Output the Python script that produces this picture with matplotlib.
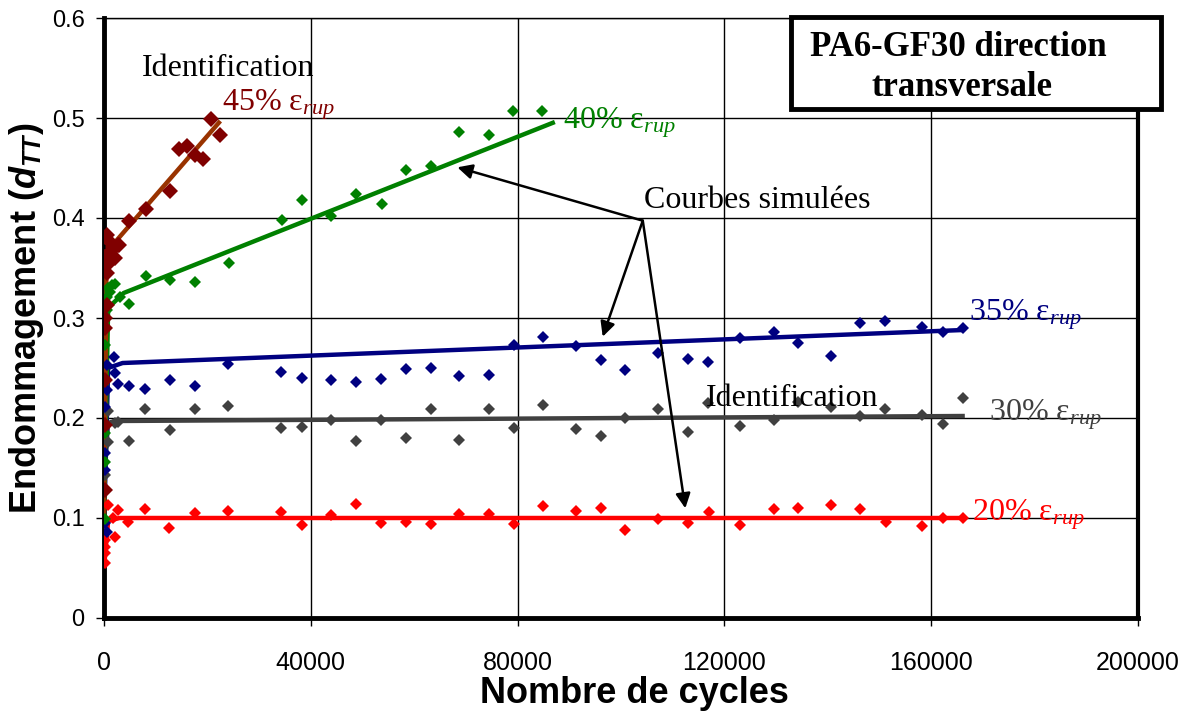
import numpy as np
import matplotlib.pyplot as plt
from matplotlib.patches import Rectangle

plt.rcParams['mathtext.fontset'] = 'custom'
plt.rcParams['mathtext.rm'] = 'Liberation Serif'
plt.rcParams['mathtext.it'] = 'Liberation Serif:italic'
plt.rcParams['mathtext.bf'] = 'Liberation Sans:bold'
plt.rcParams['mathtext.bfit'] = 'Liberation Sans:italic:bold'

# 20% eps_rup (rouge)
x_20 = [200, 200, 200, 200, 830, 1800, 2130, 2760, 4700, 7970, 12640, 17550, 23900, 34330, 38310,
        43990, 48810, 53560, 58390, 63220, 68740, 74480, 79230, 84830, 91340, 96090, 100840, 107200,
        112950, 117010, 123070, 129640, 134270, 140700, 146250, 151200, 158300, 162200, 166200]
y_20 = [0.055, 0.065, 0.071, 0.078, 0.113, 0.100, 0.081, 0.108, 0.096, 0.109, 0.090, 0.105, 0.107,
        0.106, 0.093, 0.103, 0.114, 0.095, 0.096, 0.094, 0.104, 0.104, 0.094, 0.112, 0.107, 0.110,
        0.088, 0.099, 0.095, 0.106, 0.093, 0.109, 0.110, 0.113, 0.109, 0.096, 0.092, 0.100, 0.100]

# 30% eps_rup (gris)
x_30 = [200, 770, 770, 2130, 2700, 4750, 7970, 12720, 17550, 23910, 34330, 38310, 43990, 48810,
        53560, 58390, 63220, 68740, 74480, 79230, 84830, 91340, 96090, 100840, 107200, 112950,
        116750, 123070, 129500, 134200, 140700, 146250, 151000, 158300, 162200, 166200]
y_30 = [0.143, 0.207, 0.176, 0.195, 0.196, 0.177, 0.209, 0.188, 0.209, 0.212, 0.190, 0.191, 0.198,
        0.177, 0.198, 0.180, 0.209, 0.178, 0.209, 0.190, 0.213, 0.189, 0.182, 0.200, 0.209, 0.186,
        0.215, 0.192, 0.198, 0.216, 0.211, 0.202, 0.209, 0.203, 0.194, 0.220]

# 35% eps_rup (bleu)
x_35 = [200, 200, 200, 200, 520, 520, 520, 1900, 2130, 2760, 4750, 7970, 12720, 17550, 23910, 34330,
        38310, 43990, 48810, 53560, 58390, 63220, 68740, 74480, 79230, 84830, 91340, 96090, 100840,
        107200, 112950, 116750, 123070, 129500, 134200, 140700, 146250, 151000, 158300, 162200, 166200]
y_35 = [0.095, 0.148, 0.165, 0.211, 0.086, 0.228, 0.253, 0.261, 0.245, 0.234, 0.232, 0.229, 0.238,
        0.232, 0.254, 0.246, 0.240, 0.238, 0.236, 0.239, 0.249, 0.250, 0.242, 0.243, 0.273, 0.281,
        0.272, 0.258, 0.248, 0.265, 0.259, 0.256, 0.280, 0.286, 0.275, 0.262, 0.295, 0.297, 0.291,
        0.286, 0.290]

# 40% eps_rup (vert)
x_40 = [200, 200, 200, 200, 300, 520, 520, 812, 1160, 1480, 2140, 3030, 4880, 8060, 12860, 17670,
        24100, 34460, 38370, 43990, 48730, 53680, 58340, 63290, 68690, 74380, 79040, 84730]
y_40 = [0.099, 0.156, 0.185, 0.273, 0.312, 0.308, 0.321, 0.330, 0.326, 0.333, 0.334, 0.321, 0.314,
        0.342, 0.338, 0.336, 0.355, 0.398, 0.418, 0.402, 0.424, 0.414, 0.448, 0.452, 0.486, 0.483,
        0.507, 0.507]

# 45% eps_rup (marron)
x_45 = [200, 200, 200, 200, 200, 200, 500, 500, 500, 500, 770, 1160, 1740, 2130, 2700, 2880, 4880,
        8060, 12720, 14490, 16040, 17600, 19150, 20780, 22480]
y_45 = [0.128, 0.193, 0.238, 0.290, 0.300, 0.361, 0.313, 0.345, 0.353, 0.383, 0.378, 0.366, 0.371,
        0.360, 0.373, 0.373, 0.397, 0.409, 0.427, 0.469, 0.472, 0.463, 0.459, 0.499, 0.483]

# courbes simulees
sim_20_x = [0, 800, 3000, 166000]
sim_20_y = [0.05, 0.097, 0.100, 0.100]
sim_30_x = [0, 800, 2000, 166500]
sim_30_y = [0.14, 0.195, 0.197, 0.202]
sim_35_x = [0, 800, 3600, 166200]
sim_35_y = [0.09, 0.25, 0.255, 0.288]
sim_40_x = [0, 800, 3800, 87200]
sim_40_y = [0.10, 0.31, 0.325, 0.496]
sim_45_x = [0, 500, 2000, 22500]
sim_45_y = [0.085, 0.36, 0.375, 0.497]

xticks = [0, 40000, 80000, 120000, 160000, 200000]
yticks = [0, 0.1, 0.2, 0.3, 0.4, 0.5, 0.6]

serif = 'Liberation Serif'
sans = 'Liberation Sans'

fig = plt.figure(figsize=(11.9, 7.22), dpi=100)
ax = fig.add_axes([104/1190, 1-618/722, (1138-104)/1190, 600/722])

series = [
    (x_20, y_20, sim_20_x, sim_20_y, '#FF0000', '#FF0000', 6),
    (x_30, y_30, sim_30_x, sim_30_y, '#404040', '#404040', 6),
    (x_35, y_35, sim_35_x, sim_35_y, '#000080', '#000080', 6),
    (x_40, y_40, sim_40_x, sim_40_y, '#008000', '#008000', 6),
    (x_45, y_45, sim_45_x, sim_45_y, '#800000', '#993300', 8),
]
for xs, ys, sx, sy, mcol, lcol, ms in series:
    ax.plot(sx, sy, color=lcol, lw=3.2, zorder=3, solid_capstyle='butt')
for xs, ys, sx, sy, mcol, lcol, ms in series:
    ax.plot(xs, ys, 'D', color=mcol, ms=ms, mew=0, zorder=4)

ax.set_xlim(0, 200000)
ax.set_ylim(0, 0.6)
ax.set_xticks(xticks)
ax.set_yticks(yticks)
ax.set_xticklabels([str(t) for t in xticks], family=sans, fontsize=18)
ax.set_yticklabels(['0' if t == 0 else '%.1f' % t for t in yticks], family=sans, fontsize=17)
ax.tick_params(axis='x', direction='out', length=6, width=1, pad=18, colors='black')
ax.tick_params(axis='y', direction='out', length=6, width=1, pad=8, colors='black')
ax.grid(True, color='black', lw=1)
ax.set_axisbelow(True)
for s in ['left', 'bottom']:
    ax.spines[s].set_linewidth(3.5)
ax.spines['right'].set_linewidth(3)
ax.spines['top'].set_linewidth(1)

ax.set_xlabel('Nombre de cycles', family=sans, fontweight='bold', fontsize=26)
ax.xaxis.set_label_coords((634-104)/1034, -(676-618)/600)
ax.set_ylabel(r'Endommagement ($\mathbfit{d}_{\mathbfit{TT}}$)', family=sans, fontweight='bold',
              fontsize=26, labelpad=4)

# textes
eps = 'ε$_{\\mathit{rup}}$'
fs = 23
ax.text(23960, 0.55, 'Identification', family=serif, fontsize=fs, ha='center', va='center')
ax.text(22800, 0.508, '45% ' + eps, family=serif, fontsize=fs, color='#800000', ha='left', va='baseline')
ax.text(88700, 0.49, '40% ' + eps, family=serif, fontsize=fs, color='#008000', ha='left', va='baseline')
ax.text(167300, 0.298, '35% ' + eps, family=serif, fontsize=fs, color='#000080', ha='left', va='baseline')
ax.text(171200, 0.198, '30% ' + eps, family=serif, fontsize=fs, color='#404040', ha='left', va='baseline')
ax.text(167900, 0.098, '20% ' + eps, family=serif, fontsize=fs, color='#FF0000', ha='left', va='baseline')
ax.text(104500, 0.418, 'Courbes simulées', family=serif, fontsize=fs, ha='left', va='center')
ax.text(116500, 0.22, 'Identification', family=serif, fontsize=fs, ha='left', va='center', zorder=5)

# fleches
arrow_from = (104210, 0.3973)
arrow_to = [(68350, 0.4507), (96460, 0.2813), (112440, 0.1097)]
for tx, ty in arrow_to:
    ax.annotate('', xy=(tx, ty), xytext=arrow_from,
                arrowprops=dict(arrowstyle='-|>', color='black', lw=1.8, mutation_scale=22,
                                shrinkA=0, shrinkB=0), zorder=6)

# cadre du titre
box = Rectangle((791/1190, 1-109/722), (1161-791)/1190, (109-17)/722, transform=fig.transFigure,
                facecolor='white', edgecolor='black', lw=3.5, zorder=10)
fig.patches.append(box)
fig.text(958/1190, 1-48/722, 'PA6-GF30 direction', family=serif, fontweight='bold', fontsize=25,
         ha='center', va='center', zorder=11)
fig.text(962/1190, 1-88/722, 'transversale', family=serif, fontweight='bold', fontsize=25,
         ha='center', va='center', zorder=11)

fig.savefig('out.png', dpi=100)
